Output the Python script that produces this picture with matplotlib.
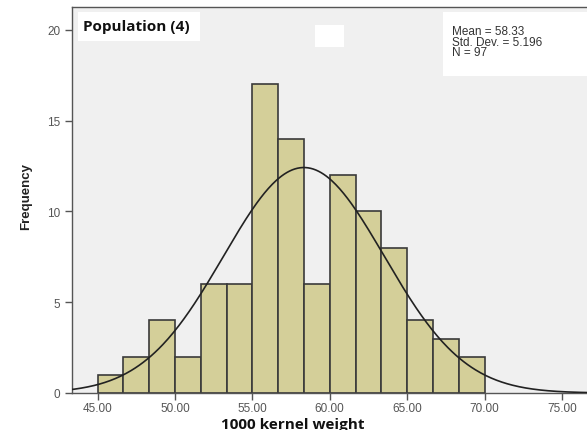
import numpy as np
import matplotlib
matplotlib.use("Agg")
import matplotlib.pyplot as plt
from matplotlib.patches import Rectangle

# Data
bin_edges = [45.0 + i * 5.0 / 3.0 for i in range(16)]
counts = [1, 2, 4, 2, 6, 6, 17, 14, 6, 12, 10, 8, 4, 3, 2]
mean, sd, n = 58.33, 5.196, 97
xticks = [45, 50, 55, 60, 65, 70, 75]
xticklabels = ["45.00", "50.00", "55.00", "60.00", "65.00", "70.00", "75.00"]
yticks = [0, 5, 10, 15, 20]
stats_lines = ["Mean = 58.33", "Std. Dev. = 5.196", "N = 97"]

fig = plt.figure(figsize=(5.87, 4.31), dpi=100)
fig.patch.set_facecolor("white")
ax = fig.add_axes([72 / 587, (431 - 394) / 431, 1 - 72 / 587 + 0.01, (394 - 8) / 431])
ax.set_facecolor("#f0f0f0")

widths = np.diff(bin_edges)
ax.bar(bin_edges[:-1], counts, width=widths, align="edge",
       color="#d4cf99", edgecolor="#3a3a3a", linewidth=1.2, zorder=2)

xs = np.linspace(43.0, 77.0, 400)
bw = 5.0 / 3.0
ys = n * bw / (sd * np.sqrt(2 * np.pi)) * np.exp(-0.5 * ((xs - mean) / sd) ** 2)
ax.plot(xs, ys, color="#222222", linewidth=1.2, zorder=3)

ax.set_xlim(43.35, 77.0)
ax.set_ylim(0, 21.25)
ax.set_xticks(xticks)
ax.set_xticklabels(xticklabels)
ax.set_yticks(yticks)
ax.spines["right"].set_visible(False)
for s in ["left", "bottom", "top"]:
    ax.spines[s].set_color("#555555")
    ax.spines[s].set_linewidth(1.0)
ax.tick_params(axis="both", direction="out", length=5, width=1.0,
               color="#555555", labelcolor="#555555", labelsize=8.5)
ax.tick_params(axis="x", pad=1.5)
for lab in ax.get_xticklabels() + ax.get_yticklabels():
    lab.set_family("Liberation Sans")

fig.text(26 / 587, 1 - 197 / 431, "Frequency", rotation=90, fontsize=9.5,
         fontweight="bold", family="Liberation Sans", color="#222222",
         ha="center", va="center")
fig.text(293 / 587, 1 - 425 / 431, "1000 kernel weight", fontsize=11,
         fontweight="bold", family="Open Sans", color="#111111",
         ha="center", va="center")

# Title label box
fig.patches.append(Rectangle((78 / 587, 1 - 42 / 431), 122 / 587, 29 / 431,
                             transform=fig.transFigure, facecolor="white",
                             edgecolor="none", zorder=5))
fig.text(83 / 587, 1 - 27 / 431, "Population (4)", fontsize=11, fontweight="bold",
         family="Open Sans", va="center", ha="left", color="#111111", zorder=6)

# White square
fig.patches.append(Rectangle((315 / 587, 1 - 48 / 431), 29 / 587, 22 / 431,
                             transform=fig.transFigure, facecolor="white",
                             edgecolor="none", zorder=5))

# Stats box
fig.patches.append(Rectangle((443 / 587, 1 - 77 / 431), 150 / 587, 64 / 431,
                             transform=fig.transFigure, facecolor="white",
                             edgecolor="none", zorder=5))
for i, line in enumerate(stats_lines):
    fig.text(452 / 587, 1 - (32 + 10.5 * i) / 431, line,
             fontsize=8.5, family="Liberation Sans", va="center", ha="left",
             color="#333333", zorder=6)

fig.savefig("out.png", dpi=100)
